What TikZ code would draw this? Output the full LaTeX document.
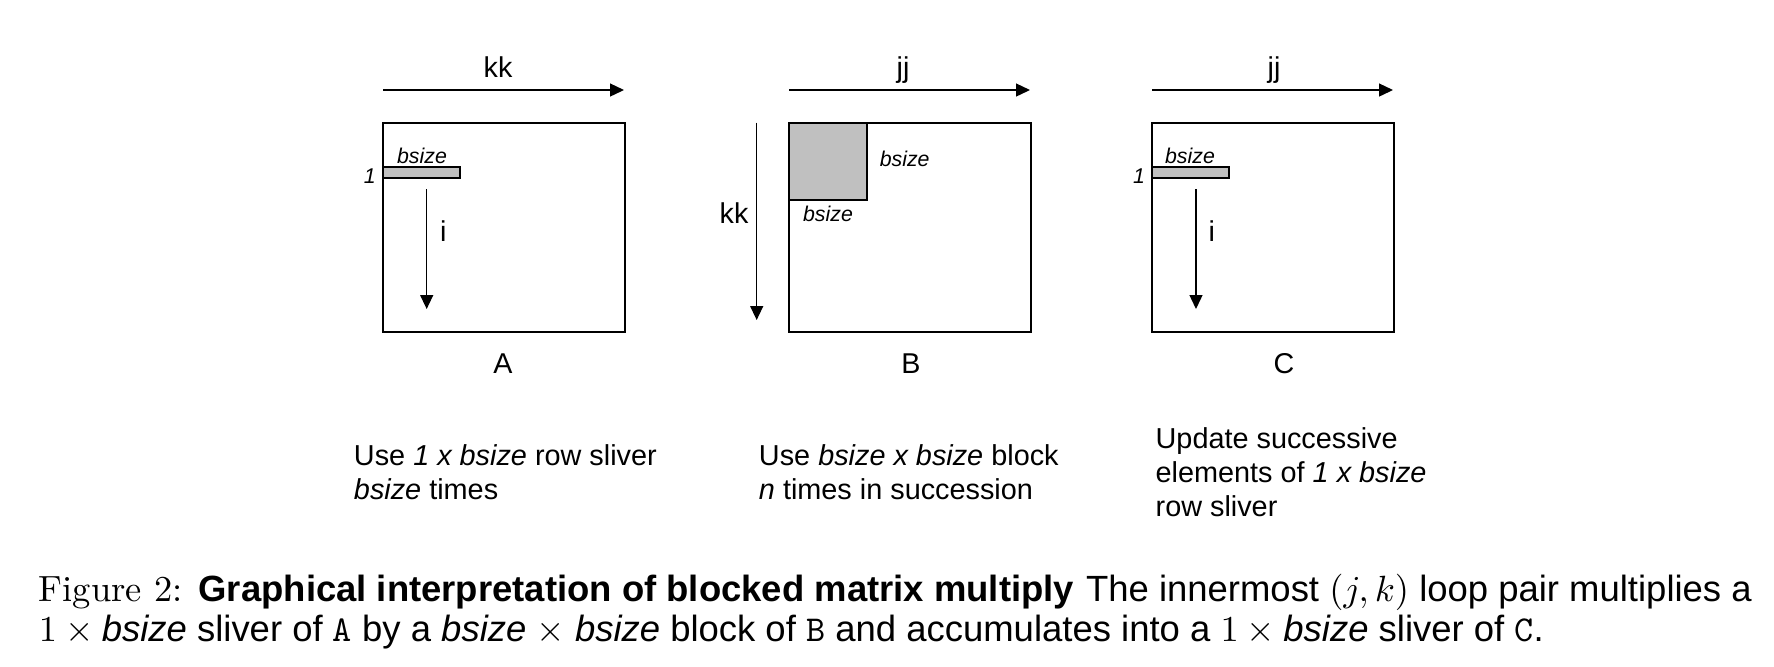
\documentclass[tikz,border=0pt]{standalone}
\usepackage{fontspec}
\newfontfamily\arial{Liberation Sans}
\usetikzlibrary{arrows.meta}
\definecolor{sliverfill}{RGB}{192,192,192}
\begin{document}
\begin{tikzpicture}[x=0.3pt,y=-0.3pt,
  mat/.style={draw,line width=0.6pt},
  blk/.style={draw,line width=0.6pt,fill=sliverfill},
  dirarrow/.style={line width=0.4pt,-{Triangle[length=4.2pt,width=3.9pt]}},
  lbl/.style={font=\arial\fontsize{8.6}{10}\selectfont,inner sep=0pt,anchor=base},
  small/.style={font=\arial\itshape\fontsize{6.4}{7.5}\selectfont,inner sep=0pt,anchor=base},
  body/.style={font=\arial\fontsize{8.65}{10}\selectfont,inner sep=0pt,anchor=base west},
  captext/.style={font=\fontsize{10.94}{12}\selectfont,inner sep=0pt,anchor=base west},
]
\useasboundingbox[fill=white] (0,0) rectangle (1774,666);

% ---------- Matrix A ----------
\draw[mat] (382.7,122.7) rectangle (625,331.7);
\draw[blk] (383,166.7) rectangle (460,177.7);
\coordinate (kkAs) at (383,90);
\coordinate (kkAe) at (624,90);
\draw[dirarrow] (kkAs) -- (kkAe);
\node[lbl] (kkA) at (498,77) {kk};
\coordinate (iAs) at (426.7,189);
\coordinate (iAe) at (426.7,309);
\draw[dirarrow] (iAs) -- (iAe);
\node[lbl] (iA) at (443.3,241.7) {i};
\node[small] (bsA) at (422,163.3) {bsize};
\node[small] (oneA) at (369.7,183) {1};
\node[lbl] (labA) at (503,373.3) {A};

% ---------- Matrix B ----------
\draw[mat] (789,122.7) rectangle (1031,331.7);
\draw[blk] (789,122.7) rectangle (866.7,200);
\coordinate (jjBs) at (789,90);
\coordinate (jjBe) at (1030,90);
\draw[dirarrow] (jjBs) -- (jjBe);
\node[lbl] (jjB) at (903,77) {jj};
\coordinate (kkBs) at (756.7,122.7);
\coordinate (kkBe) at (756.7,320);
\draw[dirarrow] (kkBs) -- (kkBe);
\node[lbl] (kkB) at (734,223.3) {kk};
\node[small] (bsBr) at (904.7,166) {bsize};
\node[small] (bsBb) at (828,221.7) {bsize};
\node[lbl] (labB) at (911,373.3) {B};

% ---------- Matrix C ----------
\draw[mat] (1151.7,122.7) rectangle (1394,331.7);
\draw[blk] (1151.7,166.7) rectangle (1229.3,177.7);
\coordinate (jjCs) at (1152,90);
\coordinate (jjCe) at (1393,90);
\draw[dirarrow] (jjCs) -- (jjCe);
\node[lbl] (jjC) at (1274,77) {jj};
\coordinate (iCs) at (1196,189);
\coordinate (iCe) at (1196,309);
\draw[dirarrow] (iCs) -- (iCe);
\node[lbl] (iC) at (1211.7,241.7) {i};
\node[small] (bsC) at (1190,163.3) {bsize};
\node[small] (oneC) at (1139,183) {1};
\node[lbl] (labC) at (1284,373.3) {C};

% ---------- Descriptions ----------
\node[body] (dA1) at (353.3,465.7) {Use \textit{1 x bsize} row sliver};
\node[body] (dA2) at (353.3,499) {\textit{bsize} times};
\node[body] (dB1) at (758.3,465.7) {Use \textit{bsize x bsize} block};
\node[body] (dB2) at (758.3,499) {\textit{n} times in succession};
\node[body] (dC1) at (1155,448.3) {Update successive};
\node[body] (dC2) at (1155,482.5) {elements of \textit{1 x bsize}};
\node[body] (dC3) at (1155,516.7) {row sliver};

% ---------- Caption ----------
\node[captext] (cap1) at (38.3,601.7) {Figure 2: {\arial\bfseries Graphical interpretation of blocked matrix multiply} {\arial The innermost $(j,k)$ loop pair multiplies a}};
\node[captext] (cap2) at (38.3,641.7) {{\arial $1\times{}$\textit{bsize} sliver of \texttt{A} by a \textit{bsize} $\times$ \textit{bsize} block of \texttt{B} and accumulates into a $1\times{}$\textit{bsize} sliver of \texttt{C}.}};
\end{tikzpicture}
\end{document}
